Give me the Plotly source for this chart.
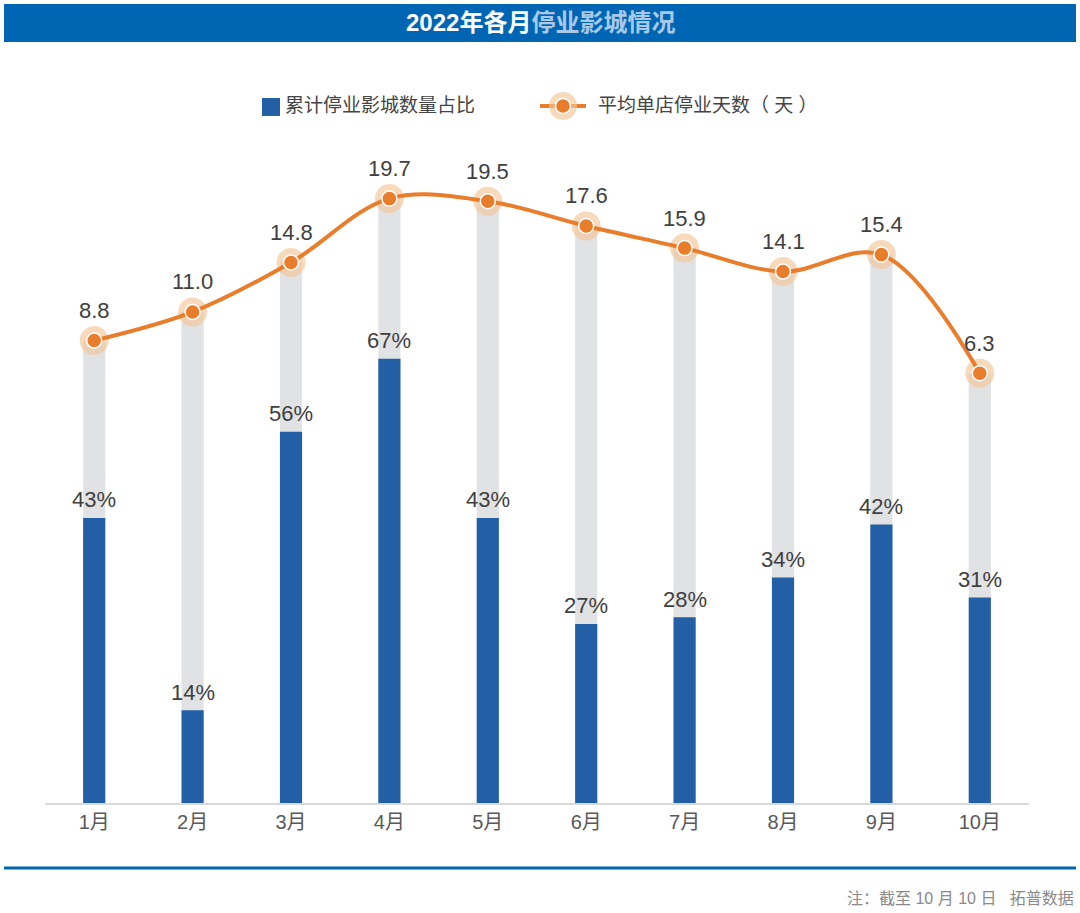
import plotly.graph_objects as go

months = ["1月", "2月", "3月", "4月", "5月", "6月", "7月", "8月", "9月", "10月"]
share_pct = [43, 14, 56, 67, 43, 27, 28, 34, 42, 31]
avg_days = [8.8, 11.0, 14.8, 19.7, 19.5, 17.6, 15.9, 14.1, 15.4, 6.3]

title_main = "2022年各月"
title_sub = "停业影城情况"
legend_bar = "累计停业影城数量占比"
legend_line = "平均单店停业天数（ 天 ）"
footnote = "注：截至 10 月 10 日   拓普数据"

W, H = 1080, 913
L, R, T, B = 45, 51, 140, 110
PW, PH = W - L - R, H - T - B

def px(x):
    return (x - L) / PW

def py(y):
    return (H - B - y) / PH

FONT = "Liberation Sans, Noto Sans CJK SC, sans-serif"
BLUE = "#235FA4"
GRAY = "#E1E2E4"
ORANGE = "#E87D2B"
HALO = "rgba(243,196,152,0.65)"
TITLE_BLUE = "#0066B3"
LABEL = "#404040"

day_min, day_max = -26.7, 24.2

fig = go.Figure()

# gray background bars up to the line value (line scale axis)
fig.add_trace(go.Bar(
    x=months, y=[d - day_min for d in avg_days], base=day_min,
    marker=dict(color=GRAY, line=dict(width=0)), width=0.225,
    yaxis="y", showlegend=False, hoverinfo="skip"))

# line halo
fig.add_trace(go.Scatter(
    x=months, y=avg_days, mode="markers",
    marker=dict(size=29, color=HALO, line=dict(width=0)),
    yaxis="y", showlegend=False, hoverinfo="skip"))

fig.add_trace(go.Scatter(
    x=months, y=avg_days, mode="lines+markers",
    line=dict(color=ORANGE, width=4, shape="spline", smoothing=1.0),
    marker=dict(size=15, color=ORANGE, line=dict(color="white", width=1.5)),
    yaxis="y", showlegend=False))

# blue percentage bars
fig.add_trace(go.Bar(
    x=months, y=share_pct,
    marker=dict(color=BLUE, line=dict(width=0)), width=0.225,
    yaxis="y2", showlegend=False))

annotations = []
for m, v in zip(months, share_pct):
    annotations.append(dict(x=m, y=v, xref="x", yref="y2", text=f"{v}%",
                            showarrow=False, yanchor="middle", yshift=18,
                            font=dict(family=FONT, size=22, color=LABEL)))
for m, v in zip(months, avg_days):
    annotations.append(dict(x=m, y=v, xref="x", yref="y", text=f"{v:.1f}",
                            showarrow=False, yanchor="middle", yshift=30,
                            font=dict(family=FONT, size=22, color=LABEL)))

# title
annotations.append(dict(
    x=px(540), y=py(23), xref="paper", yref="paper", showarrow=False,
    xanchor="center", yanchor="middle",
    text=f"<b>{title_main}<span style='color:#A9C9EA'>{title_sub}</span></b>",
    font=dict(family=FONT, size=24, color="white")))

# legend texts
annotations.append(dict(x=px(283), y=py(106), xref="paper", yref="paper",
                        showarrow=False, xanchor="left", yanchor="middle",
                        text=legend_bar,
                        font=dict(family=FONT, size=19, color="#444444")))
annotations.append(dict(x=px(596), y=py(106), xref="paper", yref="paper",
                        showarrow=False, xanchor="left", yanchor="middle",
                        text=legend_line,
                        font=dict(family=FONT, size=19, color="#444444")))

# footnote
annotations.append(dict(x=px(1076), y=py(898), xref="paper", yref="paper",
                        showarrow=False, xanchor="right", yanchor="middle",
                        text=footnote,
                        font=dict(family=FONT, size=16, color="#8A8A8A")))

def circle(cx, cy, r, color, line_color=None, lw=0):
    return dict(type="circle", xref="paper", yref="paper",
                x0=px(cx - r), x1=px(cx + r), y0=py(cy + r), y1=py(cy - r),
                fillcolor=color, line=dict(color=line_color or color, width=lw),
                layer="above")

shapes = [
    # title band
    dict(type="rect", xref="paper", yref="paper",
         x0=px(4), x1=px(1076), y0=py(42), y1=py(4),
         fillcolor=TITLE_BLUE, line=dict(width=0), layer="below"),
    # bottom rule
    dict(type="line", xref="paper", yref="paper",
         x0=px(4), x1=px(1076), y0=py(868), y1=py(868),
         line=dict(color=TITLE_BLUE, width=3)),
    # legend: blue square
    dict(type="rect", xref="paper", yref="paper",
         x0=px(262), x1=px(280), y0=py(116), y1=py(98),
         fillcolor=BLUE, line=dict(width=0)),
    # legend: line
    dict(type="line", xref="paper", yref="paper",
         x0=px(540), x1=px(586), y0=py(106), y1=py(106),
         line=dict(color=ORANGE, width=4), layer="above"),
    circle(563, 106, 14, HALO),
    circle(563, 106, 7.5, ORANGE, "white", 1.5),
]

fig.update_layout(
    width=W, height=H,
    margin=dict(l=L, r=R, t=T, b=B),
    paper_bgcolor="white", plot_bgcolor="white",
    barmode="overlay",
    showlegend=False,
    font=dict(family=FONT),
    xaxis=dict(type="category", categoryorder="array", categoryarray=months,
               range=[-0.5, len(months) - 0.5],
               showgrid=False, zeroline=False,
               showline=True, linecolor="#D9D9D9", linewidth=2,
               ticks="", tickfont=dict(family=FONT, size=20, color="#595959")),
    yaxis=dict(range=[day_min, day_max], visible=False, showgrid=False,
               zeroline=False, fixedrange=True),
    yaxis2=dict(range=[0, 100], overlaying="y", visible=False,
                showgrid=False, zeroline=False),
    annotations=annotations,
    shapes=shapes,
)

fig.write_html("out.html")
